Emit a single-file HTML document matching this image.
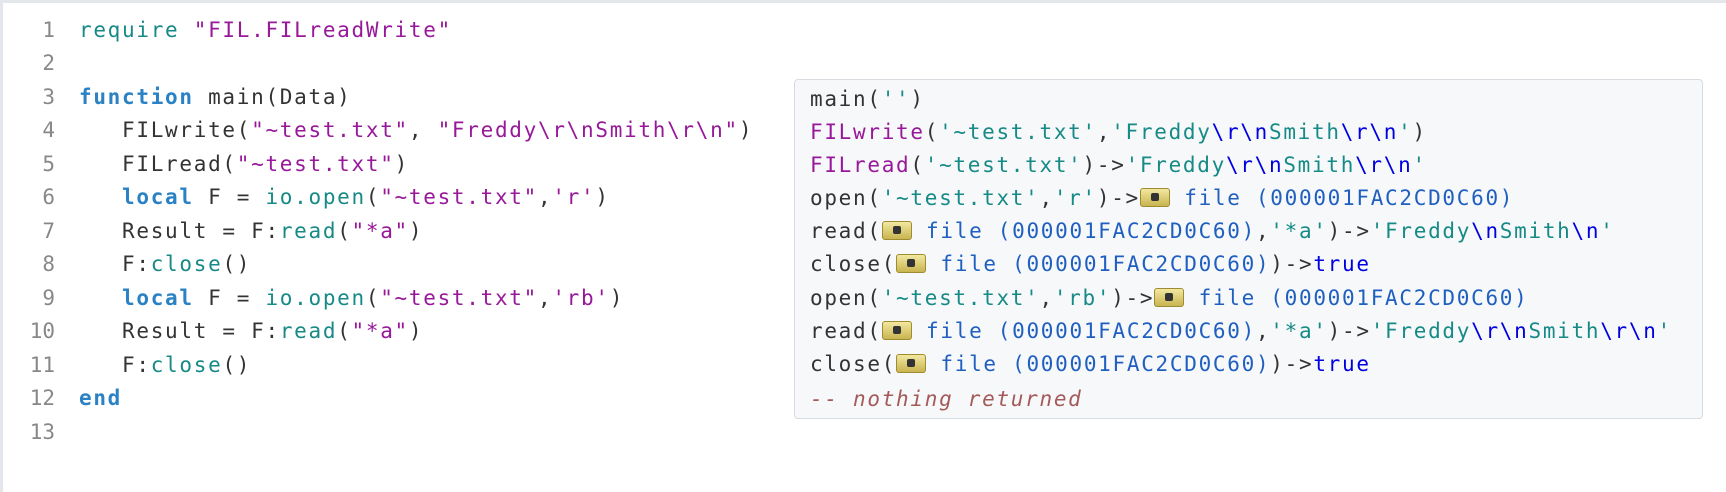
<!DOCTYPE html>
<html><head><style>
body{margin:0;width:1726px;height:492px;background:#fff;overflow:hidden;position:relative;font-family:"DejaVu Sans Mono","Liberation Mono",monospace;}
.frame{position:absolute;left:0;top:0;width:1726px;height:492px;border-top:3px solid #e3e6ea;border-left:3px solid #e3e6ea;box-sizing:border-box}
.l{position:absolute;white-space:pre;font-size:21px;letter-spacing:1.7px;color:#333;line-height:33px;height:33px}
.n{position:absolute;left:0;width:55px;text-align:right;color:#888;font-size:21px;line-height:33px}
.t{color:#168a86}.p{color:#98189a}.k{color:#2a82c4;font-weight:bold}.b{color:#0000e0}.f{color:#1f5fc0}.c{color:#a55a5a;font-style:italic}
.panel{position:absolute;left:794px;top:79px;width:909px;height:340px;background:#f7f8fa;border:1px solid #d8dce0;border-radius:4px;box-sizing:border-box}
.ic{display:inline-block;width:30px;height:19px;vertical-align:-2px;background:linear-gradient(#f2e8a0,#c8b450);border:1px solid #a08c30;border-radius:3px;box-sizing:border-box;position:relative;letter-spacing:0}
.ic:after{content:"";position:absolute;left:10px;top:4px;width:8px;height:8px;background:#333;border-radius:2px}
</style></head><body>
<div class="frame"></div>
<div class="n" style="top:14px">1</div><div class="n" style="top:47px">2</div><div class="n" style="top:81px">3</div><div class="n" style="top:114px">4</div><div class="n" style="top:148px">5</div><div class="n" style="top:181px">6</div><div class="n" style="top:215px">7</div><div class="n" style="top:248px">8</div><div class="n" style="top:282px">9</div><div class="n" style="top:315px">10</div><div class="n" style="top:349px">11</div><div class="n" style="top:382px">12</div><div class="n" style="top:416px">13</div>
<div class="l" style="left:79px;top:14px"><span class="t">require</span> <span class="p">"FIL.FILreadWrite"</span></div>
<div class="l" style="left:79px;top:81px"><span class="k">function</span> main(Data)</div>
<div class="l" style="left:79px;top:114px">   FILwrite(<span class="p">"~test.txt"</span>, <span class="p">"Freddy\r\nSmith\r\n"</span>)</div>
<div class="l" style="left:79px;top:148px">   FILread(<span class="p">"~test.txt"</span>)</div>
<div class="l" style="left:79px;top:181px">   <span class="k">local</span> F = <span class="t">io.open</span>(<span class="p">"~test.txt"</span>,<span class="p">'r'</span>)</div>
<div class="l" style="left:79px;top:215px">   Result = F:<span class="t">read</span>(<span class="p">"*a"</span>)</div>
<div class="l" style="left:79px;top:248px">   F:<span class="t">close</span>()</div>
<div class="l" style="left:79px;top:282px">   <span class="k">local</span> F = <span class="t">io.open</span>(<span class="p">"~test.txt"</span>,<span class="p">'rb'</span>)</div>
<div class="l" style="left:79px;top:315px">   Result = F:<span class="t">read</span>(<span class="p">"*a"</span>)</div>
<div class="l" style="left:79px;top:349px">   F:<span class="t">close</span>()</div>
<div class="l" style="left:79px;top:382px"><span class="k">end</span></div>
<div class="panel"></div>
<div class="l" style="left:810px;top:83px">main(<span class="t">''</span>)</div>
<div class="l" style="left:810px;top:116px"><span class="p">FILwrite</span>(<span class="t">'~test.txt'</span>,<span class="t">'Freddy<span class="b">\r\n</span>Smith<span class="b">\r\n</span>'</span>)</div>
<div class="l" style="left:810px;top:149px"><span class="p">FILread</span>(<span class="t">'~test.txt'</span>)-&gt;<span class="t">'Freddy<span class="b">\r\n</span>Smith<span class="b">\r\n</span>'</span></div>
<div class="l" style="left:810px;top:182px">open(<span class="t">'~test.txt'</span>,<span class="t">'r'</span>)-&gt;<span class="ic"></span><span class="f"> file (000001FAC2CD0C60)</span></div>
<div class="l" style="left:810px;top:215px">read(<span class="ic"></span><span class="f"> file (000001FAC2CD0C60)</span>,<span class="t">'*a'</span>)-&gt;<span class="t">'Freddy<span class="b">\n</span>Smith<span class="b">\n</span>'</span></div>
<div class="l" style="left:810px;top:248px">close(<span class="ic"></span><span class="f"> file (000001FAC2CD0C60)</span>)-&gt;<span class="b">true</span></div>
<div class="l" style="left:810px;top:282px">open(<span class="t">'~test.txt'</span>,<span class="t">'rb'</span>)-&gt;<span class="ic"></span><span class="f"> file (000001FAC2CD0C60)</span></div>
<div class="l" style="left:810px;top:315px">read(<span class="ic"></span><span class="f"> file (000001FAC2CD0C60)</span>,<span class="t">'*a'</span>)-&gt;<span class="t">'Freddy<span class="b">\r\n</span>Smith<span class="b">\r\n</span>'</span></div>
<div class="l" style="left:810px;top:348px">close(<span class="ic"></span><span class="f"> file (000001FAC2CD0C60)</span>)-&gt;<span class="b">true</span></div>
<div class="l" style="left:810px;top:383px"><span class="c">-- nothing returned</span></div>
</body></html>
